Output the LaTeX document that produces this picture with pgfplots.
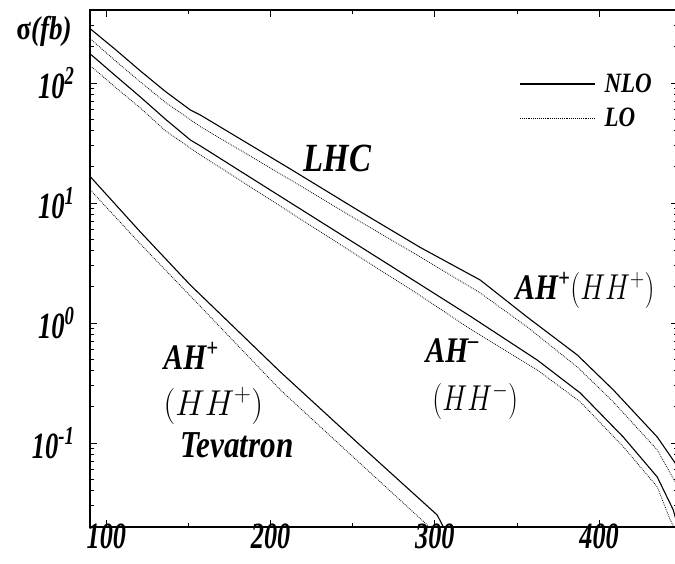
\RequirePackage{fix-cm}
\documentclass[border=0pt]{standalone}
\usepackage{fontspec}
\setmainfont{Liberation Serif}
\newfontfamily\lab[FakeStretch=0.82]{Liberation Serif}
\newfontfamily\tkfont[FakeStretch=0.71]{Liberation Serif}
\newfontfamily\tkyfont[FakeStretch=0.72]{Liberation Serif}
\usepackage{graphicx}
\usepackage{pgfplots}
\pgfplotsset{compat=1.18}
\newcommand{\lf}[1]{\lab\bfseries\itshape\fontsize{#1}{#1}\selectfont}
\newcommand{\tklab}[1]{{\tkfont\bfseries\itshape\fontsize{37}{37}\selectfont #1}}
\newcommand{\tkylab}[1]{{\tkyfont\bfseries\itshape\fontsize{37}{37}\selectfont 10\textsuperscript{#1}}}
\newcommand{\mh}[2][0.78]{\scalebox{#1}[1]{\fontsize{36}{36}\selectfont$#2$}}

\begin{document}
\begin{tikzpicture}
\useasboundingbox (-90pt,-37pt) rectangle (585pt,527pt);
\begin{axis}[
  name=ax, at={(0,0)}, anchor=south west,
  scale only axis, width=588pt, height=517pt,
  xmin=90, xmax=448,
  ymode=log, ymin=0.01995, ymax=406,
  xtick={100,200,300,400},
  xticklabels={\tklab{100},\tklab{200},\tklab{300},\tklab{400}},
  minor xtick={150,250,350},
  ytick={0.1,1,10,100},
  yticklabels={\tkylab{-1},\tkylab{0},\tkylab{1},\tkylab{2}},
  minor ytick={0.02,0.03,0.04,0.05,0.06,0.07,0.08,0.09,0.2,0.3,0.4,0.5,0.6,0.7,0.8,0.9,
    2,3,4,5,6,7,8,9,20,30,40,50,60,70,80,90,200,300,400},
  tick align=inside, major tick length=7pt, minor tick length=4pt,
  axis line style={line width=1.5pt},
  every tick/.style={black, line width=0.9pt},
  xticklabel style={inner sep=1pt, yshift=4pt},
  yticklabel style={xshift=-12pt},
  legend style={draw=none, fill=none, inner sep=0pt, row sep=8pt, column sep=6pt,
    at={(0.73,0.824)}, anchor=west, font=\lf{28},
    nodes={inner sep=3pt}},
  legend cell align=left,
  legend image code/.code={\draw[#1] (0pt,0pt) -- (75pt,0pt);},
  nlo/.style={black, line width=1.1pt},
  lo/.style={black, line width=0.8pt, dash pattern=on 0.8pt off 1.1pt},
]
\addlegendimage{nlo}
\addlegendentry{NLO}
\addlegendimage{lo}
\addlegendentry{LO}
% LHC, AH+ (HH+)
\addplot[nlo, forget plot] coordinates {
  (90.3,282) (105.5,190) (120.7,126) (135.9,85) (151.1,59.6) (157.2,54.1)
  (181.6,34.1) (212.0,19.2) (254.6,8.46) (291.1,4.26) (327.6,2.28)
  (356.2,1.12) (386.7,0.541) (408.6,0.277) (435.4,0.112) (446.3,0.068)
  (448.5,0.058)};
\addplot[lo, forget plot] coordinates {
  (90.3,233) (105.5,153) (120.7,102) (135.9,69) (157.2,43.3) (181.6,27.5)
  (212.0,15.6) (254.6,6.98) (291.1,3.55) (327.6,1.78) (356.2,0.926)
  (386.7,0.43) (408.6,0.22) (435.4,0.0875) (443.3,0.056) (448.5,0.042)};
% LHC, AH- (HH-)
\addplot[nlo, forget plot] coordinates {
  (90.3,174) (105.5,115) (120.7,76.4) (135.9,50) (151.1,33.5) (157.2,29.9)
  (181.6,18.4) (212.0,10.06) (254.6,4.32) (291.1,2.09) (321.5,1.14)
  (362.3,0.491) (388.5,0.261) (414.7,0.112) (435.4,0.052) (445.1,0.0277)
  (449.4,0.017)};
\addplot[lo, forget plot] coordinates {
  (90.3,139) (105.5,92) (120.7,61.9) (135.9,40) (157.2,25.1) (181.6,15.4)
  (212.0,8.32) (254.6,3.52) (291.1,1.69) (321.5,0.891) (362.3,0.406)
  (388.5,0.22) (414.7,0.093) (435.4,0.043) (443.3,0.0228) (446.3,0.019)};
% Tevatron, AH+ (HH+)
\addplot[nlo, forget plot] coordinates {
  (90.3,16.5) (120.7,5.73) (151.1,2.07) (205.9,0.391) (254.6,0.0955)
  (301.4,0.0251) (305.1,0.020) (309.4,0.0156)};
\addplot[lo, forget plot] coordinates {
  (90.3,12.8) (120.7,4.55) (151.1,1.68) (205.9,0.277) (254.6,0.0673)
  (295.4,0.0207) (299.6,0.0156)};

\node[anchor=center] at (axis cs:240.6,23.7) {\lf{40}LHC};
\node[anchor=base west, inner sep=0pt] at (axis cs:348.9,1.556)
  {\lf{36}AH\textsuperscript{+}\mh{(HH^+)}};
\node[anchor=base west, inner sep=0pt] at (axis cs:294.2,0.473)
  {\lf{36}AH\textsuperscript{\textendash}};
\node[anchor=base west, inner sep=0pt] at (axis cs:298.4,0.188) {\mh{(HH^-)}};
\node[anchor=base west, inner sep=0pt] at (axis cs:134.7,0.406)
  {\lf{36}AH\textsuperscript{+}};
\node[anchor=base west, inner sep=0pt] at (axis cs:134.7,0.171) {\mh[0.92]{(HH^+)}};
\node[anchor=base west, inner sep=0pt] at (axis cs:145.0,0.075) {\lf{38}Tevatron};
\end{axis}
\node at ([xshift=-46pt,yshift=-21pt]ax.north west)
  {\lab\bfseries\fontsize{33}{33}\selectfont σ\itshape(fb)};
\end{tikzpicture}
\end{document}
